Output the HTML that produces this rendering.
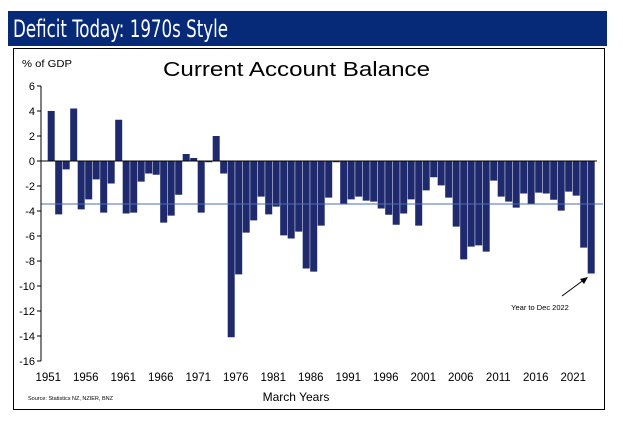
<!DOCTYPE html>
<html><head><meta charset="utf-8"><style>
body{margin:0;background:#fff;width:623px;height:420px;overflow:hidden;font-family:"Liberation Sans",sans-serif}
</style></head><body>
<svg width="623" height="420" xmlns="http://www.w3.org/2000/svg">
<rect x="8" y="11" width="599" height="35" fill="#062a78"/>
<text x="13" y="37" fill="#fff" font-size="24" textLength="215" lengthAdjust="spacingAndGlyphs" font-family="'DejaVu Sans Condensed','Liberation Sans Narrow','Liberation Sans',sans-serif">Deficit Today: 1970s Style</text>
<rect x="13.5" y="48.5" width="591" height="361" fill="none" stroke="#000" stroke-width="1"/>
<text x="22" y="67" font-size="10" textLength="50" lengthAdjust="spacingAndGlyphs">% of GDP</text>
<text x="163" y="76" font-size="20" textLength="267" lengthAdjust="spacingAndGlyphs">Current Account Balance</text>
<text x="28" y="400" font-size="5.5">Source: Statistics NZ, NZIER, BNZ</text>
<text x="296" y="401" font-size="12" text-anchor="middle">March Years</text>
<g id="g"></g>
<text x="540" y="310" font-size="7.5" text-anchor="middle">Year to Dec 2022</text>
<line x1="562" y1="296" x2="585" y2="279" stroke="#000" stroke-width="1"/>
<polygon points="588,277 580,279 584,284" fill="#000"/>
</svg>
<script>
const startYear = 1951;
const values = [4.0,-4.27,-0.67,4.2,-3.87,-3.07,-1.47,-4.13,-1.8,3.3,
-4.2,-4.13,-1.65,-1.0,-1.1,-4.93,-4.37,-2.7,0.56,0.24,
-4.13,-0.1,2.0,-1.0,-14.1,-9.07,-5.73,-4.75,-2.85,-4.27,
-3.65,-5.95,-6.2,-5.65,-8.6,-8.85,-5.17,-2.93,-0.1,-3.4,
-3.07,-2.85,-3.17,-3.25,-3.8,-4.3,-5.1,-4.2,-3.07,-5.17,
-2.35,-1.3,-1.95,-2.93,-5.25,-7.87,-6.85,-6.75,-7.25,-1.57,
-2.85,-3.25,-3.73,-2.6,-3.44,-2.53,-2.6,-3.1,-3.97,-2.45,
-2.77,-6.93,-9.0];
const yTicks = [6,4,2,0,-2,-4,-6,-8,-10,-12,-14,-16];
const xTickYears = [1951,1956,1961,1966,1971,1976,1981,1986,1991,1996,2001,2006,2011,2016,2021];
const avgValue = -3.44;
const NS="http://www.w3.org/2000/svg";
const g=document.getElementById('g');
const y=v=>161-v*12.5;
const x=i=>51.3+i*7.5;
function mk(t,a){const e=document.createElementNS(NS,t);for(const k in a)e.setAttribute(k,a[k]);g.appendChild(e);return e;}
values.forEach((v,i)=>{
 const r=mk('rect',{x:x(i)-3.6,y:Math.min(y(v),y(0)),width:7,height:Math.abs(y(v)-y(0)),fill:'#1f2a6e'});
 
 
});
const z=mk('line',{x1:41,x2:597,y1:y(0),y2:y(0),stroke:'#000','stroke-width':1});


const av=mk('line',{x1:41,x2:603,y1:y(avgValue),y2:y(avgValue),stroke:'#4a6fb5','stroke-width':1});


const ax=mk('line',{x1:41,x2:41,y1:y(6),y2:y(-16),stroke:'#000','stroke-width':1});


yTicks.forEach(t=>{
 const l=mk('line',{x1:37,x2:41,y1:y(t),y2:y(t),stroke:'#000'});
 
 
 const tx=mk('text',{x:35,y:y(t)+4,'font-size':11,'text-anchor':'end'});
 tx.textContent=t;
 
 
});
xTickYears.forEach(yr=>{
 const tx=mk('text',{x:x(yr-startYear)-3,y:381,'font-size':11.5,'text-anchor':'middle'});
 tx.textContent=yr;
 
 
});
</script>
</body></html>
